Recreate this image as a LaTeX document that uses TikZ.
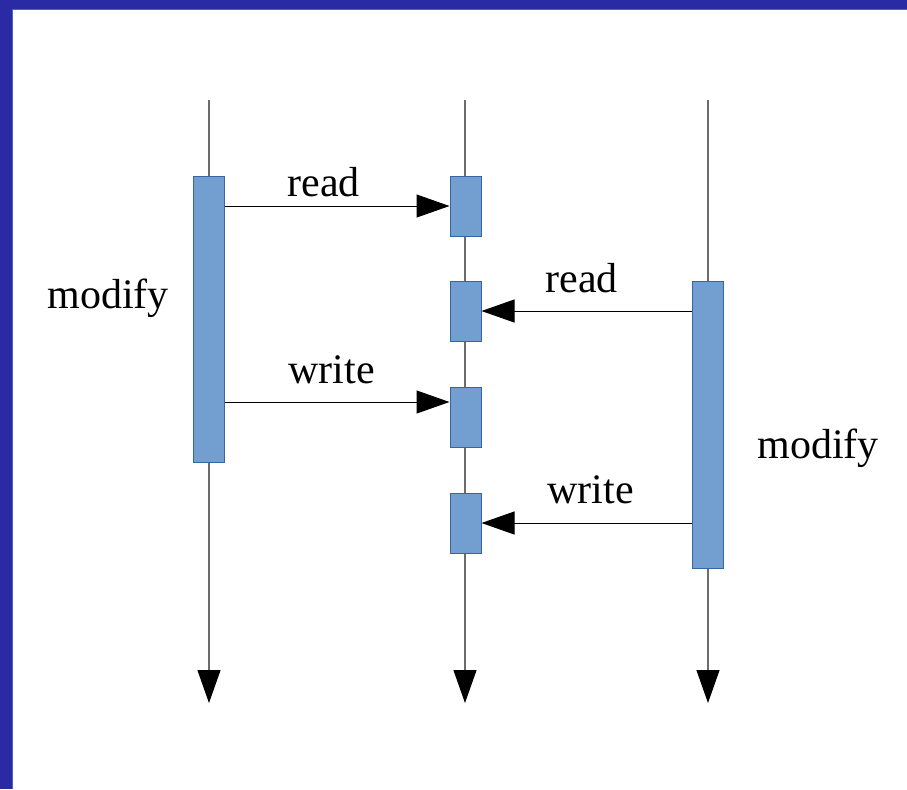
\documentclass[tikz,border=0pt]{standalone}
\usepackage{fontspec}
\setmainfont{Liberation Serif}
\usetikzlibrary{arrows.meta, positioning}

\definecolor{khung}{RGB}{42,42,165}
\definecolor{vienkhung}{RGB}{70,100,200}
\definecolor{hopxanh}{RGB}{114,159,207}
\definecolor{vienhop}{RGB}{52,101,164}

\begin{document}
\begin{tikzpicture}[x=0.5pt, y=-0.5pt, >={Triangle[length=16.5pt, width=11.5pt, black]},
    hop/.style={draw=vienhop, line width=0.5pt, fill=hopxanh, inner sep=0pt,
        minimum width=15.5pt},
    truc/.style={draw=gray!85!black, line width=0.6pt, ->},
    tinnhan/.style={draw=black, line width=0.5pt, ->},
    nhan/.style={inner sep=0pt, anchor=base west, font=\fontsize{21}{25}\selectfont}]

    % =================================================================
    % 1. KHUNG NỀN
    % =================================================================
    \useasboundingbox (0,0) rectangle (907,789);
    \fill[khung] (0,0) rectangle (907,789);
    \fill[white] (12,9) rectangle (907,789);
    \draw[vienkhung, line width=0.5pt] (12,789) -- (12,9) -- (907,9);

    % =================================================================
    % 2. BA ĐƯỜNG THỜI GIAN
    % =================================================================
    \coordinate (TrenA) at (209,100);
    \coordinate (DuoiA) at (209,703);
    \coordinate (TrenB) at (465,100);
    \coordinate (DuoiB) at (465,703);
    \coordinate (TrenC) at (708,100);
    \coordinate (DuoiC) at (708,703);

    \draw[truc] (TrenA) -- (DuoiA);
    \draw[truc] (TrenB) -- (DuoiB);
    \draw[truc] (TrenC) -- (DuoiC);

    % =================================================================
    % 3. CÁC HỘP HOẠT ĐỘNG
    % =================================================================
    \node[hop, minimum height=143pt] (HopA) at (208.5,319) {};
    \node[hop, minimum height=143.5pt] (HopC) at (707.5,424.5) {};

    \node[hop, minimum height=30pt] (HopB1) at (465.5,206) {};
    \node[hop, minimum height=30pt] (HopB2) at (465.5,311) {};
    \node[hop, minimum height=30pt] (HopB3) at (465.5,417) {};
    \node[hop, minimum height=30pt] (HopB4) at (465.5,523) {};

    % =================================================================
    % 4. CÁC MŨI TÊN ĐỌC / GHI
    % =================================================================
    \draw[tinnhan] (HopA.east |- HopB1.west) -- (HopB1.west);
    \draw[tinnhan] (HopC.west |- HopB2.east) -- (HopB2.east);
    \draw[tinnhan] (HopA.east |- 0,402) -- (HopB3.west |- 0,402);
    \draw[tinnhan] (HopC.west |- HopB4.east) -- (HopB4.east);

    % =================================================================
    % 5. NHÃN
    % =================================================================
    \node[nhan] (DocA) at (287,196) {read};
    \node[nhan] (GhiA) at (288,383) {write};
    \node[nhan] (DocC) at (545,292) {read};
    \node[nhan] (GhiC) at (547,503) {write};

    \node[nhan] (SuaA) at (47,308) {modify};
    \node[nhan] (SuaC) at (757,458) {modify};

\end{tikzpicture}
\end{document}
